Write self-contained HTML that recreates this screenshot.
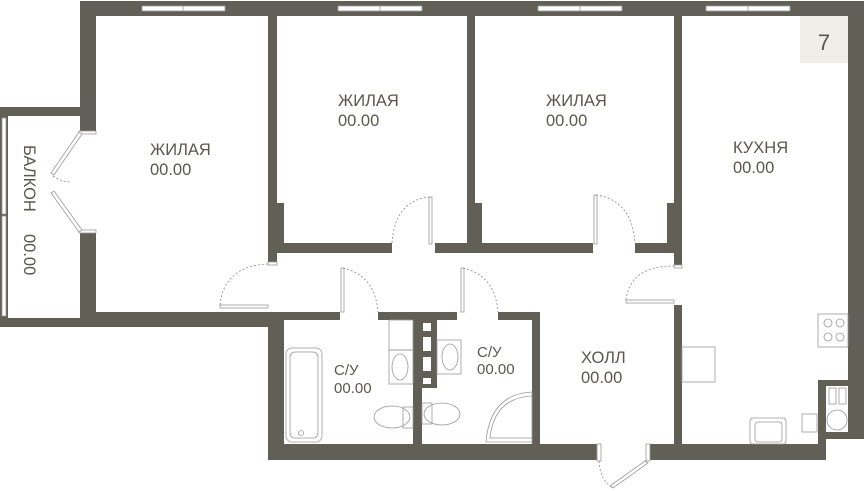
<!DOCTYPE html>
<html><head><meta charset="utf-8"><style>
html,body{margin:0;padding:0;background:#fff;}
svg{display:block;}
text{font-family:"Liberation Sans",sans-serif;fill:#5a574f;}
</style></head><body>
<svg width="864" height="491" viewBox="0 0 864 491" xmlns="http://www.w3.org/2000/svg">
<g fill="#625f57">
<!-- top wall -->
<rect x="80" y="1" width="784" height="15"/>
<!-- left main wall -->
<rect x="80" y="1" width="16" height="130"/>
<rect x="80" y="233" width="16" height="94"/>
<!-- balcony -->
<rect x="0" y="107" width="96" height="9"/>
<rect x="0" y="107" width="8" height="220"/>
<rect x="0" y="318" width="96" height="9"/>
<!-- left room bottom wall -->
<rect x="80" y="312" width="204" height="15"/>
<!-- left room right wall -->
<rect x="268" y="16" width="9" height="246"/>
<rect x="268" y="203" width="16" height="50"/>
<rect x="268" y="243" width="124" height="10"/>
<!-- bedroom2/3 divider -->
<rect x="435" y="243" width="158" height="10"/>
<rect x="467" y="16" width="8" height="237"/>
<rect x="467" y="203" width="15" height="50"/>
<!-- bedroom3/kitchen -->
<rect x="635" y="243" width="47" height="10"/>
<rect x="674" y="16" width="8" height="249"/>
<rect x="667" y="203" width="15" height="50"/>
<!-- kitchen left wall -->
<rect x="674" y="305" width="8" height="155"/>
<!-- right wall -->
<rect x="848" y="1" width="16" height="438"/>
<rect x="818" y="380" width="30" height="6"/>
<rect x="818" y="380" width="8" height="80"/>
<rect x="818" y="432" width="46" height="7"/>
<!-- bottom walls -->
<rect x="647" y="444" width="179" height="16"/>
<rect x="268" y="444" width="330" height="16"/>
<!-- sanitary -->
<rect x="268" y="312" width="16" height="148"/>
<rect x="268" y="312" width="72" height="8"/>
<rect x="378" y="312" width="79" height="8"/>
<rect x="498" y="312" width="42" height="8"/>
<rect x="532" y="312" width="8" height="140"/>
<rect x="413" y="320" width="9" height="130"/>
<rect x="413" y="320" width="24" height="68"/>
</g>
<!-- shaft holes -->
<g fill="#fff">
<rect x="423" y="323" width="8" height="8"/>
<rect x="423" y="337" width="8" height="14"/>
<rect x="423" y="357" width="8" height="14"/>
<rect x="423" y="378" width="8" height="6"/>
</g>
<!-- windows -->
<g fill="#fff" stroke="#999" stroke-width="0.8">
<rect x="142" y="6" width="83" height="5"/>
<rect x="338" y="6" width="84" height="5"/>
<rect x="538" y="6" width="84" height="5"/>
<rect x="706" y="6" width="84" height="5"/>
<rect x="2" y="118" width="4" height="96"/>
<rect x="2" y="216" width="4" height="100"/>
</g>
<g stroke="#999" stroke-width="0.8">
<line x1="183" y1="6" x2="183" y2="11"/><line x1="380" y1="6" x2="380" y2="11"/>
<line x1="580" y1="6" x2="580" y2="11"/><line x1="748" y1="6" x2="748" y2="11"/>
</g>
<!-- label 7 -->
<rect x="800" y="16" width="48" height="47" fill="#f1ede8"/>
<text x="824" y="50" font-size="22" text-anchor="middle" fill="#4a4740">7</text>
<!-- doors -->
<g fill="#fff" stroke="#999" stroke-width="0.8">
<rect x="79" y="131" width="17" height="3"/><rect x="79" y="230" width="17" height="3"/>
<polygon points="79,132 82,134 54,175 51,173"/>
<polygon points="79,232 82,230 54,191 51,193"/>
<rect x="220" y="305" width="48" height="3"/>
<rect x="268" y="262" width="9" height="3"/>
<rect x="429" y="197" width="3" height="47"/>
<rect x="594" y="195" width="3" height="49"/>
<rect x="626" y="300" width="48" height="3"/>
<rect x="674" y="265" width="8" height="3"/>
<rect x="341" y="268" width="3" height="44"/>
<rect x="461" y="268" width="3" height="44"/>
<rect x="597" y="444" width="4" height="17"/>
<rect x="646" y="444" width="4" height="17"/>
<polygon points="645,461 648,463 613,488 610,486"/>
</g>
<g fill="none" stroke="#888" stroke-width="0.8" stroke-dasharray="2,2">
<path d="M53,176 Q62,182 70,182"/>
<path d="M220,305 Q224,266 268,264"/>
<path d="M430,197 Q395,200 392,243"/>
<path d="M596,195 Q632,200 635,243"/>
<path d="M626,300 Q630,266 674,266"/>
<path d="M343,268 Q375,275 378,312"/>
<path d="M463,268 Q495,275 498,312"/>
<path d="M599,461 Q600,480 612,487"/>
</g>
<!-- fixtures -->
<g fill="none" stroke="#999" stroke-width="0.8">
<rect x="286" y="348" width="36" height="94" rx="6"/>
<rect x="290" y="352" width="28" height="86" rx="5"/>
<circle cx="301" cy="433" r="2.5"/>
<rect x="389" y="320" width="24" height="30"/>
<rect x="389" y="350" width="24" height="34"/>
<ellipse cx="400" cy="367" rx="8" ry="13"/>
<rect x="437" y="340" width="24" height="34"/>
<ellipse cx="450" cy="357" rx="8" ry="13"/>
<ellipse cx="392" cy="417" rx="18" ry="11"/>
<rect x="403" y="407" width="10" height="21"/>
<ellipse cx="442" cy="414" rx="18" ry="11"/>
<rect x="422" y="403" width="10" height="21"/>
<path d="M532,392 Q490,394 486,442 L532,442 Z"/>
<path d="M532,396 Q494,398 490,438 L532,438"/>
<rect x="682" y="347" width="33" height="35"/>
<rect x="818" y="314" width="30" height="33"/>
<circle cx="828" cy="323" r="4"/><circle cx="840" cy="323" r="4"/>
<circle cx="828" cy="337" r="4"/><circle cx="840" cy="337" r="4"/>
<rect x="750" y="418" width="36" height="26" rx="3"/>
<rect x="755" y="422" width="27" height="20" rx="3"/>
<rect x="802" y="414" width="15" height="18"/>
<rect x="829" y="388" width="7" height="16"/>
<rect x="839" y="388" width="7" height="16"/>
<circle cx="837" cy="420" r="10"/>
</g>
<!-- labels -->
<g font-size="16.5">
<text x="150" y="155">ЖИЛАЯ</text><text x="150" y="175">00.00</text>
<text x="338" y="106">ЖИЛАЯ</text><text x="338" y="126">00.00</text>
<text x="546" y="106">ЖИЛАЯ</text><text x="546" y="126">00.00</text>
<text x="733" y="153">КУХНЯ</text><text x="733" y="173">00.00</text>
<text x="581" y="363">ХОЛЛ</text><text x="581" y="383">00.00</text>
</g>
<g font-size="15">
<text x="334" y="375">С/У</text><text x="334" y="393">00.00</text>
<text x="477" y="357">С/У</text><text x="477" y="374">00.00</text>
</g>
<g font-size="16.5" transform="translate(24,145) rotate(90)">
<text x="0" y="0">БАЛКОН</text><text x="89" y="0">00.00</text>
</g>
</svg>
</body></html>
